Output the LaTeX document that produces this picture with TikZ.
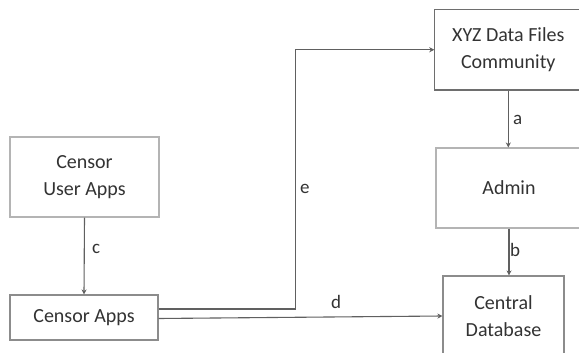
\documentclass[tikz,border=0pt]{standalone}
\usepackage{fontspec}
\setmainfont{Carlito}
\usetikzlibrary{arrows.meta}
\definecolor{boxlight}{HTML}{B4B4B4}
\definecolor{boxmid}{HTML}{8C8C8C}
\definecolor{boxdark}{HTML}{6E6E6E}
\definecolor{linec}{HTML}{606060}
\definecolor{txt}{HTML}{333333}
\begin{document}
\begin{tikzpicture}[x=1pt,y=-1pt,
  box/.style={draw, line width=1.1pt, rectangle, inner sep=0pt, align=center, text=txt,
     font=\fontsize{20}{27}\selectfont},
  conn/.style={draw=linec, line width=1.1pt, -{Stealth[length=5pt,width=5pt]}},
  lab/.style={text=txt, font=\fontsize{19}{22}\selectfont, inner sep=0pt}]
\useasboundingbox (0,0) rectangle (579,353);
\fill[white] (0,0) rectangle (579,353);
% boxes
\node[box, draw=boxlight, minimum width=149pt, minimum height=80pt] (user) at (84.5,177) {Censor\\User Apps};
\node[box, draw=boxmid, minimum width=148pt, minimum height=45pt] (apps) at (84,317.5) {Censor Apps};
\node[box, draw=boxdark, minimum width=147pt, minimum height=80.5pt] (xyz) at (508.3,49.75) {XYZ Data Files\\Community};
\node[box, draw=boxlight, minimum width=146pt, minimum height=80pt] (admin) at (509,188) {Admin};
\node[box, draw=boxmid, minimum width=121pt, minimum height=80pt] (db) at (503.5,316) {Central\\Database};
% connectors
\coordinate (ebend) at (295.7,50);
\draw[conn] (user.south) -- (apps.north);
\draw[conn] (xyz.south) -- (xyz.south |- admin.north);
\draw[conn] (admin.south) -- (admin.south |- db.north);
\draw[conn] ([yshift=8.5pt]apps.east) -| (ebend |- xyz.west) -- (xyz.west);
\draw[conn] ([yshift=-1pt]apps.east) -- (db.west);
% labels
\node[lab, anchor=west] (lc) at (92,249) {c};
\node[lab, anchor=west] (la) at (513,120) {a};
\node[lab, anchor=west] (lb) at (510,250) {b};
\node[lab, anchor=west] (le) at (300,189) {e};
\node[lab] (ld) at (336,302) {d};
\end{tikzpicture}
\end{document}
